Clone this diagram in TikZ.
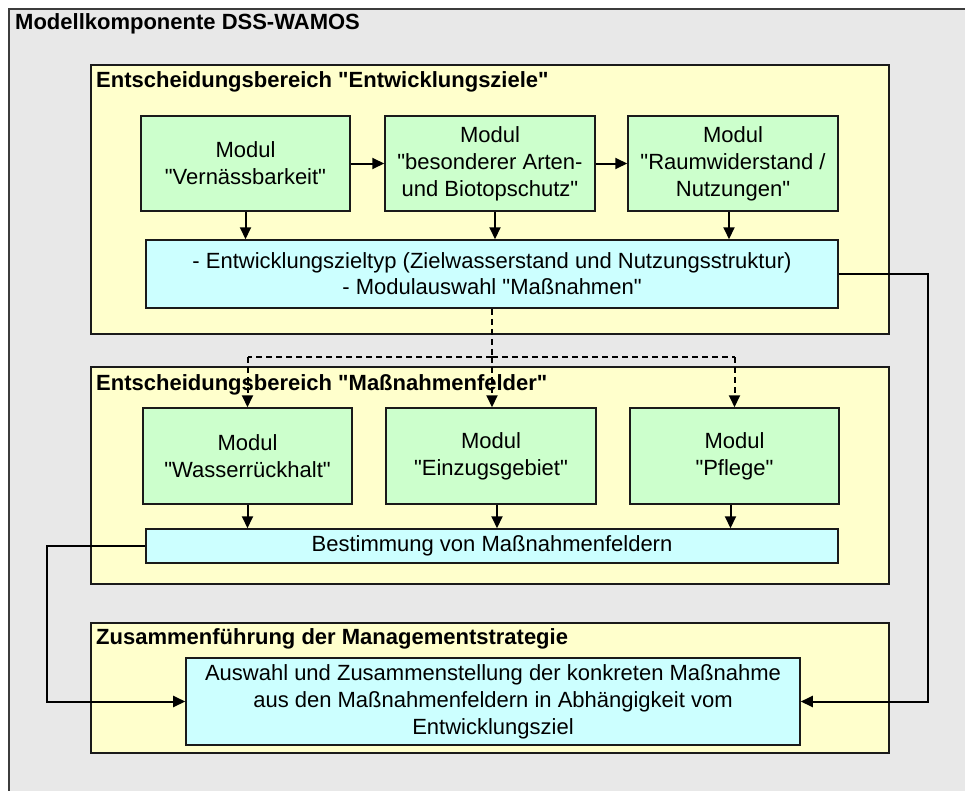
\documentclass[tikz,border=0pt]{standalone}
\usepackage{fontspec}
\setmainfont{Liberation Sans}[Ligatures=TeXOff]
\usetikzlibrary{arrows.meta}
\definecolor{outerbg}{HTML}{E8E8E8}
\definecolor{areabg}{HTML}{FFFFCC}
\definecolor{modbg}{HTML}{CCFFCC}
\definecolor{resbg}{HTML}{CCFFFF}
\definecolor{linecol}{HTML}{1A1A1A}
\tikzset{
  every node/.style={font=\fontsize{22bp}{27bp}\selectfont},
  area/.style={draw=linecol, line width=1.5bp, fill=areabg, rectangle, inner sep=0pt},
  areatitle/.style={anchor=west, inner sep=0pt, font=\fontsize{22bp}{27bp}\selectfont\bfseries},
  modbox/.style={draw=linecol, line width=1.5bp, fill=modbg, rectangle, inner sep=0pt, align=center, minimum width=209bp, minimum height=95bp},
  resbox/.style={draw=linecol, line width=1.5bp, fill=resbg, rectangle, inner sep=0pt, align=center},
  conn/.style={draw=black, line width=2bp, -{Triangle[length=12bp,width=11bp]}},
  dconn/.style={draw=black, line width=2bp, dash pattern=on 6bp off 4bp},
}
\begin{document}
\begin{tikzpicture}[x=1bp,y=-1bp]
\useasboundingbox (0,0) rectangle (965,791);
\fill[white] (0,0) rectangle (965,791);
% outer component
\draw[fill=outerbg, draw=linecol!85, line width=1.8bp] (9,9) rectangle (990,810);
\node[areatitle] (maintitle) at (15,24) {Modellkomponente DSS-WAMOS};

% decision areas
\node[area, minimum width=798bp, minimum height=269bp] (area1) at (490,199.5) {};
\node[areatitle] (t1) at (96,82) {Entscheidungsbereich "Entwicklungsziele"};
\node[area, minimum width=798bp, minimum height=217bp] (area2) at (490,475.5) {};
\node[areatitle] (t2) at (96,385) {Entscheidungsbereich "Maßnahmenfelder"};
\node[area, minimum width=798bp, minimum height=130bp] (area3) at (490,688) {};
\node[areatitle] (t3) at (96,639) {Zusammenführung der Managementstrategie};

% modules row 1
\node[modbox] (A) at (245.5,163.5) {Modul\\"Vernässbarkeit"};
\node[modbox, minimum width=210bp] (B) at (490,163.5) {Modul\\"besonderer Arten-\\und Biotopschutz"};
\node[modbox, minimum width=210bp] (C) at (733,163.5) {Modul\\"Raumwiderstand /\\Nutzungen"};
\node[resbox, minimum width=692bp, minimum height=68bp, font=\fontsize{22bp}{26bp}\selectfont] (R1) at (492,274)
  {- Entwicklungszieltyp (Zielwasserstand und Nutzungsstruktur)\\- Modulauswahl "Maßnahmen"};

% modules row 2
\node[modbox, minimum height=96bp] (D) at (247.5,456) {Modul\\"Wasserrückhalt"};
\node[modbox, minimum width=210bp, minimum height=96bp] (E) at (491,456) {Modul\\"Einzugsgebiet"};
\node[modbox, minimum height=96bp] (F) at (734.5,456) {Modul\\"Pflege"};
\node[resbox, minimum width=692bp, minimum height=34bp] (R2) at (492,546) {Bestimmung von Maßnahmenfeldern};

% result
\node[resbox, minimum width=614bp, minimum height=87bp] (R3) at (493,701.5)
  {Auswahl und Zusammenstellung der konkreten Maßnahme\\aus den Maßnahmenfeldern in Abhängigkeit vom\\Entwicklungsziel};

% connectors row 1
\draw[conn] (A.east) -- (B.west);
\draw[conn] (B.east) -- (C.west);
\draw[conn] (A.south) -- (A.south |- R1.north);
\draw[conn] ([xshift=5bp]B.south) -- ([xshift=5bp]B.south |- R1.north);
\draw[conn] ([xshift=-4bp]C.south) -- ([xshift=-4bp]C.south |- R1.north);

% dashed distribution
\coordinate (split) at (492,357);
\draw[dconn] (R1.south) -- (split);
\draw[dconn] (split) -- (split -| D.north);
\draw[dconn] (split) -- (split -| F.north);
\draw[dconn, -{Triangle[length=12bp,width=11bp]}] (split -| D.north) -- (D.north);
\draw[dconn, -{Triangle[length=12bp,width=11bp]}] (split -| F.north) -- (F.north);
\draw[dconn, -{Triangle[length=12bp,width=11bp]}] (split) -- (split |- E.north);

% connectors row 2
\draw[conn] (D.south) -- (D.south |- R2.north);
\draw[conn] ([xshift=6bp]E.south) -- ([xshift=6bp]E.south |- R2.north);
\draw[conn] ([xshift=-4bp]F.south) -- ([xshift=-4bp]F.south |- R2.north);

% feedback connectors
\coordinate (lturn) at (47,546);
\coordinate (rturn) at (928,701.5);
\draw[conn] (R2.west) -- (lturn) |- (R3.west);
\draw[conn] (R1.east) -| (rturn) -- (R3.east);
\end{tikzpicture}
\end{document}
